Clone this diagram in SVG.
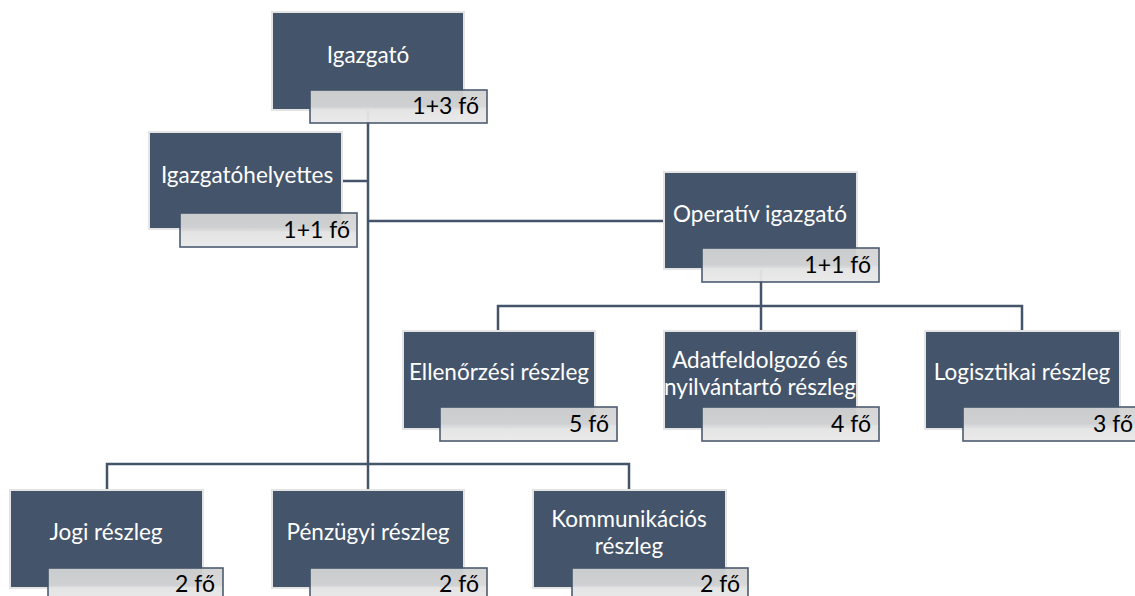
<svg xmlns="http://www.w3.org/2000/svg" width="1135" height="596" viewBox="0 0 1135 596">
  <defs>
    <linearGradient id="tagFill" x1="0" y1="0" x2="0" y2="1">
      <stop offset="0" stop-color="#d3d3d3"/>
      <stop offset="0.5" stop-color="#d7d7d7"/>
      <stop offset="0.56" stop-color="#e3e3e3"/>
      <stop offset="1" stop-color="#e9e9e9"/>
    </linearGradient>
  </defs>
  <style>
    .box { fill: #44546a; stroke: #e4e4e4; stroke-width: 2; }
    .tag { fill: url(#tagFill); stroke: #44546a; stroke-width: 1.6; opacity: 0.95; }
    .title { font-family: Lato, "Liberation Sans", sans-serif; font-size: 22.5px; fill: #ffffff; text-anchor: middle; }
    .count { font-family: Lato, "Liberation Sans", sans-serif; font-size: 23px; fill: #000000; text-anchor: end; }
    .link { fill: none; stroke: #44546a; stroke-width: 2.5; }
  </style>
  <rect width="1135" height="596" fill="#ffffff"/>

  <!-- connectors -->
  <g id="connectors" class="link">
    <path d="M368 110 V490"/>
    <path d="M342 181 H368"/>
    <path d="M368 221 H663"/>
    <path d="M761 269 V331"/>
    <path d="M498 331 V306 H1022 V331"/>
    <path d="M107 490 V464 H629 V490"/>
  </g>

  <g id="igazgato">
    <rect class="box" x="272" y="12" width="192" height="98"/>
    <text class="title" x="368" y="63">Igazgató</text>
    <rect class="tag" x="310" y="90" width="177" height="33"/>
    <text class="count" x="479" y="114">1+3 fő</text>
  </g>

  <g id="igazgatohelyettes">
    <rect class="box" x="149" y="132" width="193" height="97"/>
    <text class="title" x="247" y="183">Igazgatóhelyettes</text>
    <rect class="tag" x="180" y="213" width="177" height="34"/>
    <text class="count" x="350" y="238">1+1 fő</text>
  </g>

  <g id="operativ-igazgato">
    <rect class="box" x="664" y="172" width="193" height="97"/>
    <text class="title" x="760" y="222">Operatív igazgató</text>
    <rect class="tag" x="702" y="248" width="177" height="34"/>
    <text class="count" x="871" y="273">1+1 fő</text>
  </g>

  <g id="ellenorzesi-reszleg">
    <rect class="box" x="403" y="331" width="192" height="98"/>
    <text class="title" x="499" y="380">Ellenőrzési részleg</text>
    <rect class="tag" x="440" y="407" width="177" height="34"/>
    <text class="count" x="609" y="432">5 fő</text>
  </g>

  <g id="adatfeldolgozo-reszleg">
    <rect class="box" x="664" y="331" width="193" height="98"/>
    <text class="title" x="760" y="368">Adatfeldolgozó és</text>
    <text class="title" x="760" y="395">nyilvántartó részleg</text>
    <rect class="tag" x="702" y="407" width="177" height="34"/>
    <text class="count" x="871" y="432">4 fő</text>
  </g>

  <g id="logisztikai-reszleg">
    <rect class="box" x="925" y="331" width="195" height="98"/>
    <text class="title" x="1022" y="380">Logisztikai részleg</text>
    <rect class="tag" x="963" y="407" width="177" height="34"/>
    <text class="count" x="1133" y="432">3 fő</text>
  </g>

  <g id="jogi-reszleg">
    <rect class="box" x="10" y="490" width="193" height="98"/>
    <text class="title" x="106" y="540">Jogi részleg</text>
    <rect class="tag" x="48" y="568" width="175" height="34"/>
    <text class="count" x="215" y="592">2 fő</text>
  </g>

  <g id="penzugyi-reszleg">
    <rect class="box" x="272" y="490" width="192" height="98"/>
    <text class="title" x="368" y="540">Pénzügyi részleg</text>
    <rect class="tag" x="310" y="568" width="177" height="34"/>
    <text class="count" x="479" y="592">2 fő</text>
  </g>

  <g id="kommunikacios-reszleg">
    <rect class="box" x="533" y="490" width="193" height="98"/>
    <text class="title" x="629" y="527">Kommunikációs</text>
    <text class="title" x="629" y="554">részleg</text>
    <rect class="tag" x="572" y="568" width="176" height="34"/>
    <text class="count" x="740" y="592">2 fő</text>
  </g>
</svg>
